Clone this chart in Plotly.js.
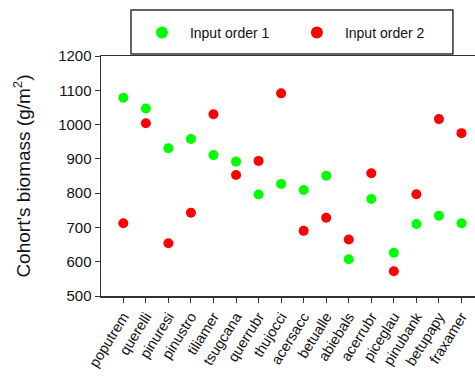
<!DOCTYPE html>
<html>
<head>
<meta charset="utf-8">
<script src="https://cdn.plot.ly/plotly-3.0.1.min.js"></script>
<style>html,body{margin:0;padding:0;background:#fff;}#chart{width:475px;height:377px;}</style>
</head>
<body>
<div id="chart"></div>
<script>
var species = ["poputrem","querelli","pinuresi","pinustro","tiliamer","tsugcana","querrubr","thujocci","acersacc","betualle","abiebals","acerrubr","piceglau","pinubank","betupapy","fraxamer"];
var order1 = [1078, 1047, 931, 958, 911, 892, 796, 827, 809, 851, 607, 783, 626, 710, 734, 712];
var order2 = [712, 1004, 654, 743, 1030, 853, 894, 1091, 690, 728, 665, 858, 572, 797, 1016, 975];
var seriesNames = ["Input order 1", "Input order 2"];
var idx = species.map(function(_, i){ return i; });

var font = "Liberation Sans, Arial, sans-serif";
var data = [
  {x: idx, y: order1, type: "scatter", mode: "markers", name: seriesNames[0],
   marker: {color: "#00ff00", size: 10}},
  {x: idx, y: order2, type: "scatter", mode: "markers", name: seriesNames[1],
   marker: {color: "#ff0000", size: 10}}
];
var layout = {
  width: 475, height: 377,
  margin: {l: 101, r: 0, t: 56, b: 81},
  paper_bgcolor: "#fff", plot_bgcolor: "#fff",
  font: {family: font, color: "#111"},
  showlegend: true,
  legend: {orientation: "h", x: 0.088, xanchor: "left", y: 1.096, yanchor: "middle",
           itemwidth: 46, entrywidth: 94, entrywidthmode: "pixels",
           font: {family: font, size: 14, color: "#111"}, bgcolor: "rgba(0,0,0,0)",
           itemsizing: "constant"},
  shapes: [{type: "rect", xref: "paper", yref: "paper", x0: 0.0802, x1: 0.941, y0: 1.0083, y1: 1.1917,
            line: {color: "#333", width: 1.5}, fillcolor: "rgba(0,0,0,0)"}],
  xaxis: {range: [-0.99, 15.6], tickmode: "array", tickvals: idx, ticktext: species,
          tickangle: -58, showgrid: false, zeroline: false, showline: true, linecolor: "#333",
          linewidth: 1.5, mirror: true, ticks: "outside", ticklen: 5, tickcolor: "#333",
          tickfont: {family: font, size: 14.5, color: "#111"}},
  yaxis: {range: [500, 1200], dtick: 100, showgrid: false, zeroline: false, showline: true,
          linecolor: "#333", linewidth: 1.5, ticks: "outside", ticklen: 5, tickcolor: "#333",
          tickfont: {family: font, size: 15, color: "#111"},
          title: {text: "Cohort's biomass (g/m<sup>2</sup>)", font: {family: font, size: 19, color: "#111"}, standoff: 22}}
};
Plotly.newPlot("chart", data, layout, {displayModeBar: false, staticPlot: true});
</script>
</body>
</html>
